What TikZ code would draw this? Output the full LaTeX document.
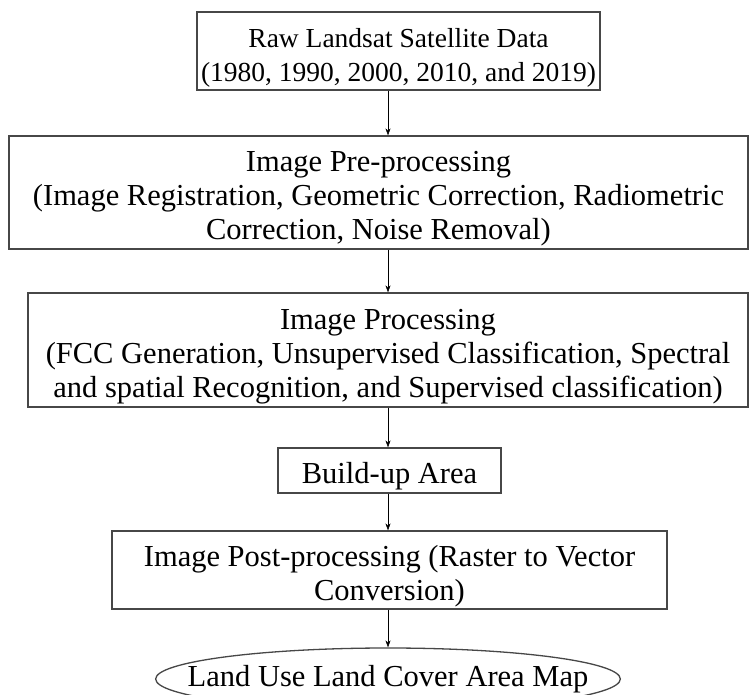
\documentclass[tikz,border=0pt]{standalone}
\usepackage{fontspec}
\setmainfont{Liberation Serif}
\usetikzlibrary{
  arrows.meta, % For arrow tips
  shapes.geometric % For the ellipse
}
\newcommand{\topgap}{\rule{0pt}{33pt}} % Pushes the first line down a bit

\begin{document}
\begin{tikzpicture}[
      x=1pt, y=-1pt, % One unit is one pixel of the layout
      >=Stealth, % Default arrow tip
      stepbox/.style={draw=black!72, line width=1.3pt, align=center,
        inner sep=0pt, font=\fontsize{30.5}{34}\selectfont},
      endbox/.style={stepbox, ellipse, inner xsep=-36pt},
      flow/.style={thin, -{Stealth[length=7pt, width=5pt]}},
    ]

    % Frame of the picture
    \useasboundingbox (0,0) rectangle (753,695);

    % Steps
    \node[stepbox, minimum width=403, minimum height=78,
      font=\fontsize{27.5}{34}\selectfont] (raw) at (398.5,51)
      {\topgap Raw Landsat Satellite Data\\(1980, 1990, 2000, 2010, and 2019)};
    \node[stepbox, minimum width=739, minimum height=113] (pre) at (378.5,192.5)
      {\topgap Image Pre-processing\\(Image Registration, Geometric Correction, Radiometric\\Correction, Noise Removal)};
    \node[stepbox, minimum width=720, minimum height=114] (proc) at (388,350)
      {\topgap Image Processing\\(FCC Generation, Unsupervised Classification, Spectral\\and spatial Recognition, and Supervised classification)};
    \node[stepbox, minimum width=223, minimum height=45] (build) at (389.5,470.5)
      {\topgap Build-up Area};
    \node[stepbox, minimum width=555, minimum height=78] (post) at (389.5,570)
      {\topgap Image Post-processing (Raster to Vector\\Conversion)};
    \node[endbox, minimum width=462, minimum height=62] (map) at (388,679)
      {Land Use Land Cover Area Map};

    % Arrows
    \draw[flow] (raw.south -| map) -- (pre.north -| map);
    \draw[flow] (pre.south -| map) -- (proc.north -| map);
    \draw[flow] (proc.south -| map) -- (build.north -| map);
    \draw[flow] (build.south -| map) -- (post.north -| map);
    \draw[flow] (post.south -| map) -- (map.north);

  \end{tikzpicture}
\end{document}
